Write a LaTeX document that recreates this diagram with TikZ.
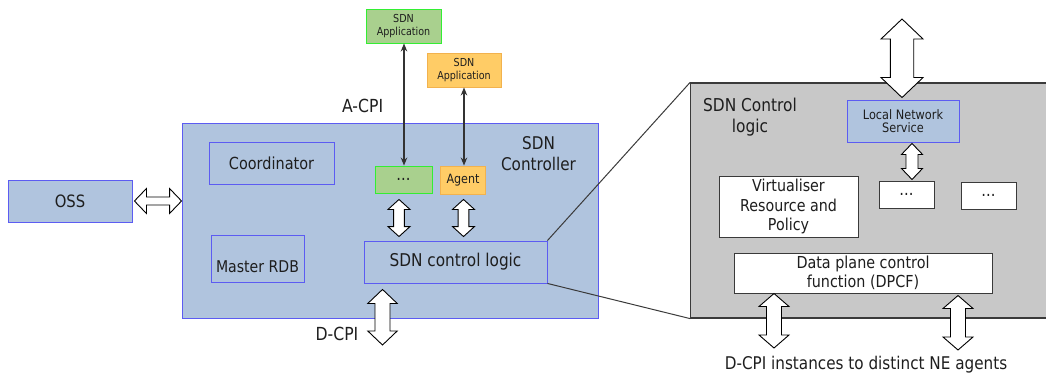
\documentclass[tikz,border=0pt]{standalone}
\usepackage{fontspec}
\setmainfont{DejaVu Sans}[FakeStretch=0.87]
\usepackage{tikz}
\usetikzlibrary{positioning,calc,arrows.meta}
\definecolor{CtrlFill}{HTML}{B0C4DE}
\definecolor{CtrlLine}{HTML}{5C5CF2}
\definecolor{AppGreen}{HTML}{A9D08E}
\definecolor{AppGreenLine}{HTML}{33EE33}
\definecolor{AppOrange}{HTML}{FFCC66}
\definecolor{AppOrangeLine}{HTML}{F2B24E}
\definecolor{LogicGrey}{HTML}{C8C8C8}
\definecolor{EdgeGrey}{HTML}{3A3A3A}
\definecolor{TextDark}{HTML}{1E1E1E}

% hollow double arrows: from, to, half shaft, half head, head length
\newcommand{\fatv}[5]{\draw[fatarr] let \p1=(#1), \p2=(#2) in
  (\x1,\y1) -- (\x1+#4pt,\y1-#5pt) -- (\x1+#3pt,\y1-#5pt) -- (\x1+#3pt,\y2+#5pt)
  -- (\x1+#4pt,\y2+#5pt) -- (\x1,\y2) -- (\x1-#4pt,\y2+#5pt) -- (\x1-#3pt,\y2+#5pt)
  -- (\x1-#3pt,\y1-#5pt) -- (\x1-#4pt,\y1-#5pt) -- cycle;}
\newcommand{\fath}[5]{\draw[fatarr] let \p1=(#1), \p2=(#2) in
  (\x1,\y1) -- (\x1+#5pt,\y1+#4pt) -- (\x1+#5pt,\y1+#3pt) -- (\x2-#5pt,\y1+#3pt)
  -- (\x2-#5pt,\y1+#4pt) -- (\x2,\y1) -- (\x2-#5pt,\y1-#4pt) -- (\x2-#5pt,\y1-#3pt)
  -- (\x1+#5pt,\y1-#3pt) -- (\x1+#5pt,\y1-#4pt) -- cycle;}

\begin{document}
\begin{tikzpicture}[x=1pt,y=-1pt,>={Stealth[length=8pt,width=6.5pt]}]
  \tikzstyle{bluebox}=[draw=CtrlLine,fill=CtrlFill,line width=0.9pt,inner sep=0pt,
    align=center,text=TextDark,font=\fontsize{17}{21}\selectfont]
  \tikzstyle{greenbox}=[bluebox,draw=AppGreenLine,fill=AppGreen]
  \tikzstyle{orangebox}=[bluebox,draw=AppOrangeLine,fill=AppOrange]
  \tikzstyle{whitebox}=[bluebox,draw=EdgeGrey,fill=white,line width=1pt]
  \tikzstyle{appfont}=[font=\fontsize{11}{13}\selectfont]
  \tikzstyle{plain}=[inner sep=0pt,align=center,text=TextDark,
    font=\fontsize{17.5}{21.5}\selectfont]
  \tikzstyle{fatarr}=[draw=black,fill=white,line width=0.9pt,line join=miter]
  \tikzstyle{thinarr}=[<->,line width=1.3pt,draw=black!80]
  \tikzstyle{zoomline}=[draw=EdgeGrey,line width=1pt]
  \useasboundingbox (0,0) rectangle (1046,377);

  % controller side
  \node[bluebox,minimum width=416pt,minimum height=195pt] (ctrl) at (390,220.5) {};
  \node[plain] (ctrllbl) at (538.5,153.5) {SDN\\Controller};
  \node[bluebox,minimum width=124pt,minimum height=42pt] (oss) at (70,201.5) {OSS};
  \node[bluebox,minimum width=125pt,minimum height=42pt,
    font=\fontsize{16.6}{20}\selectfont] (coord) at (271.5,163) {Coordinator};
  \node[bluebox,minimum width=93pt,minimum height=47pt,text height=28pt,text depth=0pt,
    font=\fontsize{16.2}{20}\selectfont] (rdb) at (257.5,258.5) {Master RDB};
  \node[greenbox,minimum width=57pt,minimum height=27pt] (dots) at (403.5,179.5) {...};
  \node[orangebox,minimum width=45.5pt,minimum height=28pt,
    font=\fontsize{12.8}{15}\selectfont] (agent) at (463,180) {Agent};
  \node[bluebox,minimum width=183pt,minimum height=42pt,
    font=\fontsize{17.6}{21}\selectfont] (logic) at (455.5,262) {SDN control logic};
  \node[greenbox,appfont,minimum width=75pt,minimum height=34pt] (app1) at (403.5,26)
    {SDN\\Application};
  \node[orangebox,appfont,minimum width=74pt,minimum height=34pt] (app2) at (464,70)
    {SDN\\Application};
  \node[plain,font=\fontsize{18}{21}\selectfont] (acpi) at (362.6,106) {A-CPI};
  \node[plain,font=\fontsize{18}{21}\selectfont] (dcpi) at (337,334) {D-CPI};

  % zoomed control logic
  \node[whitebox,fill=LogicGrey,draw=EdgeGrey,line width=1.2pt,minimum width=357.3pt,
    minimum height=235pt] (grey) at (869.35,200.5) {};
  \draw[zoomline] (logic.north east) -- (grey.north west);
  \draw[zoomline] (logic.south east) -- (grey.south west);
  \node[plain,font=\fontsize{17.7}{21.5}\selectfont] (greylbl) at (750,117)
    {SDN Control\\logic};
  \node[bluebox,minimum width=112pt,minimum height=42pt,
    font=\fontsize{13}{13.5}\selectfont] (lns) at (903,121) {Local Network\\Service};
  \node[whitebox,minimum width=55pt,minimum height=27pt] (dots2) at (906.5,194.5) {...};
  \node[whitebox,minimum width=55pt,minimum height=27pt] (dots3) at (988.5,195.5) {...};
  \node[whitebox,minimum width=139pt,minimum height=61pt,
    font=\fontsize{16.4}{19.5}\selectfont] (virt) at (788.5,206.5)
    {Virtualiser\\Resource and\\Policy};
  \node[whitebox,minimum width=258pt,minimum height=40pt,
    font=\fontsize{16.5}{19}\selectfont] (dpcf) at (863,273)
    {Data plane control\\function (DPCF)};
  \node[plain,font=\fontsize{17.5}{21}\selectfont] (nelbl) at (866,365)
    {D-CPI instances to distinct NE agents};

  % connectors
  \coordinate (app1foot) at ($(app1.south)+(0.5,0)$);
  \draw[thinarr] (app1foot) -- (app1foot |- dots.north);
  \draw[thinarr] (app2.south) -- (app2.south |- agent.north);
  \fath{$(oss.east)+(2,-0.5)$}{ctrl.west}{4}{12.5}{12}
  \fatv{$(dots.south)+(-4.5,6)$}{$(logic.north)+(0,-4)$}{5.4}{11}{10}
  \fatv{$(agent.south)+(0.5,5)$}{$(logic.north)+(0,-4)$}{5.4}{11}{10}
  \coordinate (dcpiend) at (382.7,345);
  \fatv{$(logic.south)+(-73,6)$}{dcpiend}{7.5}{14.7}{14}
  \coordinate (lnsup) at (902,19);
  \fatv{lnsup}{$(lns.north)+(0,-2)$}{11.7}{21}{20}
  \fatv{$(lns.south)+(9,1)$}{$(dots2.north)+(0,-1)$}{6}{10.5}{11}
  \coordinate (ne1) at (774,348);
  \coordinate (ne2) at (958,350);
  \fatv{$(dpcf.south)+(-89,0)$}{ne1}{7.5}{15}{13}
  \fatv{$(dpcf.south)+(95,2)$}{ne2}{7.5}{15}{13}
\end{tikzpicture}
\end{document}
